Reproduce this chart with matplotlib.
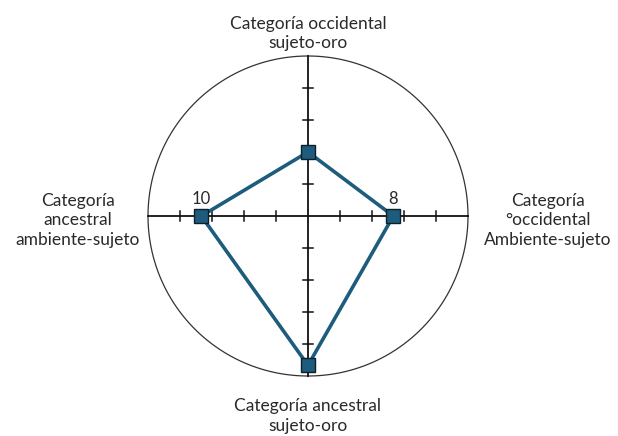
import numpy as np
import matplotlib
matplotlib.use("Agg")
import matplotlib.pyplot as plt

# categories clockwise from top
categories = ["Categoría occidental\nsujeto-oro",
              "Categoría\n°occidental\nAmbiente-sujeto",
              "Categoría ancestral\nsujeto-oro",
              "Categoría\nancestral\nambiente-sujeto"]
values = [6, 8, 14, 10]
angles_deg = [90, 0, 270, 180]
value_labels = {1: "8", 3: "10"}   # only these are printed on the chart
r_max = 15
tick_step = 3

plt.rcParams['font.family'] = ['Lato', 'DejaVu Sans']

fig = plt.figure(figsize=(6.18, 4.36), dpi=100)
ax = fig.add_axes([0, 0, 1, 1])
ax.set_aspect('equal')
ax.axis('off')

px = 160.0 / r_max   # pixels per unit
ax.set_xlim(-308 / px, (618 - 308) / px)
ax.set_ylim(-(436 - 216) / px, 216 / px)

line_col = "#1d5c7d"
txt_col = "#2a2a2a"

# outer circle
th = np.linspace(0, 2 * np.pi, 400)
ax.plot(r_max * np.cos(th), r_max * np.sin(th), color="#333333", lw=0.9, zorder=1)

# cross axes
ax.plot([-r_max, r_max], [0, 0], color="#111111", lw=1.3, zorder=1)
ax.plot([0, 0], [-r_max, r_max], color="#111111", lw=1.3, zorder=1)

# tick marks
tl = 0.45
for t in np.arange(tick_step, r_max, tick_step):
    for s in (-1, 1):
        ax.plot([s * t, s * t], [-tl, tl], color="#111111", lw=1.1, zorder=1)
        ax.plot([-tl, tl], [s * t, s * t], color="#111111", lw=1.1, zorder=1)

# polygon
a = np.radians(angles_deg)
xs = np.array(values) * np.cos(a)
ys = np.array(values) * np.sin(a)
ax.plot(np.append(xs, xs[0]), np.append(ys, ys[0]), color=line_col, lw=2.6,
        zorder=2, solid_joinstyle='miter')
ax.plot(xs, ys, ls='none', marker='s', ms=9.5, mfc=line_col, mec="#0d1f2a",
        mew=1.0, zorder=3)

for i, lab in value_labels.items():
    ax.text(xs[i], ys[i] + 0.8, lab, ha='center', va='bottom', fontsize=12,
            color=txt_col)

# category labels
fs = 12.5
ls = 1.28
ax.text(0, 17.1, categories[0], ha='center', va='center', fontsize=fs,
        color=txt_col, linespacing=ls)
ax.text((548 - 308) / px, -0.4, categories[1], ha='center', va='center',
        fontsize=fs, color=txt_col, linespacing=ls)
ax.text(0, -18.75, categories[2], ha='center', va='center', fontsize=fs,
        color=txt_col, linespacing=ls)
ax.text((78 - 308) / px, -0.4, categories[3], ha='center', va='center',
        fontsize=fs, color=txt_col, linespacing=ls)

fig.savefig("out.png", dpi=100)
